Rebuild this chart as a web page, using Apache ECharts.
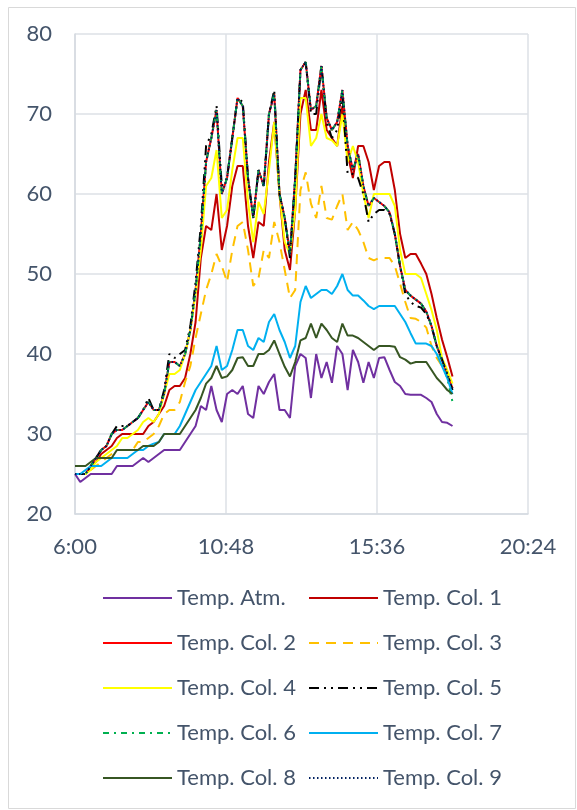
<!DOCTYPE html>
<html>
<head>
<meta charset="utf-8">
<script src="https://cdn.jsdelivr.net/npm/echarts@6/dist/echarts.min.js"></script>
<style>
  html, body { margin: 0; padding: 0; background: #ffffff; }
  #main { width: 577px; height: 810px; }
</style>
</head>
<body>
<div id="main"></div>
<script>
// minutes since 6:00, one reading every 10 min
var minutes = [0, 10, 20, 30, 40, 50, 60, 70, 80, 90,
    100, 110, 120, 130, 140, 150, 160, 170, 180, 190,
    200, 210, 220, 230, 240, 250, 260, 270, 280, 290,
    300, 310, 320, 330, 340, 350, 360, 370, 380, 390,
    400, 410, 420, 430, 440, 450, 460, 470, 480, 490,
    500, 510, 520, 530, 540, 550, 560, 570, 580, 590,
    600, 610, 620, 630, 640, 650, 660, 670, 680, 690,
    700, 710, 720];

var tempAtm = [25, 24, 24.5, 25, 25, 25, 25, 25, 26, 26,
    26, 26, 26.5, 27, 26.5, 27, 27.5, 28, 28, 28,
    28, 29, 30, 31, 33.5, 33, 36, 33, 31.5, 35,
    35.5, 35, 36, 32.5, 32, 36, 35, 36.5, 37.5, 33,
    33, 32, 38.5, 40, 39.5, 34.5, 40, 37, 39, 36.4,
    41, 40, 35.5, 40.5, 39, 36.4, 39, 37, 39.5, 39.6,
    38, 36.5, 36, 35, 34.9, 34.9, 34.9, 34.5, 34, 32.5,
    31.5, 31.4, 31];

var tempCol1 = [25, 25, 25, 26, 26.5, 27.5, 28, 28.5, 29.5, 30,
    30, 30, 30, 30, 31, 31.5, 32.5, 33.5, 35.5, 36,
    36, 37, 40, 44, 52, 56, 55.5, 60, 53, 56,
    61, 63.5, 63.5, 56, 52, 56.5, 56, 64, 69, 60,
    53, 50.5, 58, 70, 73, 68, 68, 73, 68, 67,
    66, 71, 65, 62, 66, 66, 64, 60.5, 63.5, 64,
    64, 60.5, 55, 52, 52.5, 52.5, 51.3, 50, 47.5, 44.5,
    41.8, 39.6, 37.2];

var tempCol2 = [25, 25, 25, 26, 27, 28, 28.5, 30, 30.5, 30.5,
    31, 31.5, 32, 33, 34, 33, 33, 35, 39, 39,
    38.5, 40, 43, 48, 55, 64, 67, 70.5, 60, 62,
    67, 72, 71, 62, 57, 63, 61, 70, 72.5, 60,
    57, 52.5, 62, 75.5, 76.5, 70.5, 71, 76, 69.5, 68,
    69, 73, 66, 63, 65, 61, 58.5, 59.5, 59, 58.5,
    57.7, 55, 51, 48, 47.3, 46.8, 46.3, 45.3, 43.5, 41,
    39.3, 37.5, 35.7];

var tempCol3 = [25, 25, 25, 25.5, 26, 26.5, 27, 27.5, 28, 28,
    28, 28, 29, 29, 29.5, 30, 31, 32.5, 33, 33,
    34, 36.5, 38.5, 42, 45, 48, 50, 52.5, 51, 49,
    53, 56, 56.5, 53, 48.5, 49.5, 53, 52, 56.5, 54,
    50.5, 47, 48, 60.5, 62.7, 58.8, 57, 61, 57, 56.8,
    58.5, 60, 55.5, 56.5, 55.5, 54, 52, 51.7, 52, 52,
    52, 51, 48.8, 46.5, 44.5, 44.4, 44, 43.3, 41, 39.5,
    38.5, 37.5, 36];

var tempCol4 = [25, 25, 25, 25.5, 26.5, 27, 27.5, 28, 28.5, 29.5,
    29.5, 30, 30.5, 31.5, 32, 31.5, 32.5, 35, 37.5, 37.5,
    38, 40, 43, 47.5, 53, 61, 62, 65.5, 57, 58,
    63, 67, 67, 59, 54, 59, 57.5, 63, 69, 60,
    54, 52.5, 58, 72, 72, 66, 67, 70, 67, 66.7,
    66, 70, 64, 66, 64, 60, 57, 60, 60, 60,
    60, 58.5, 53, 50, 50, 50, 49.5, 47.5, 45.5, 43,
    39.5, 38, 36.3];

var tempCol5 = [25, 25, 25, 26, 27, 28, 28.5, 30, 31, 31,
    31, 31.5, 32, 33, 34.5, 33, 33, 35.5, 40, 39.5,
    40, 40.5, 43.5, 49, 56, 66, 67.5, 71, 61, 62,
    67, 72, 71.5, 62, 57, 63, 61, 70, 73, 60,
    57, 52, 62, 75.5, 76.5, 70, 70, 76, 69, 67,
    68, 72.5, 62.5, 62.5, 62, 60, 56.5, 57.5, 58, 58,
    57.5, 55, 51, 47.5, 46.5, 46, 45.8, 45, 43.5, 41,
    39.3, 37.5, 35.5];

var tempCol6 = [25, 25, 25, 26, 27, 28, 28.5, 30, 30.5, 30.5,
    31, 31.5, 32, 33, 34, 33, 33, 35, 39, 39,
    38.5, 40, 43, 48, 55, 64, 67, 70.5, 60, 62,
    67, 72, 71, 62, 57, 63, 61, 70, 72.5, 60,
    57, 52.5, 62, 75.5, 76.5, 70.5, 71, 76, 69.5, 68,
    69, 73, 66, 63, 65, 61, 58.5, 59.5, 59, 58.5,
    57.7, 55, 51, 48, 47.3, 46.8, 46.3, 45.3, 43.5, 41,
    39, 37, 34];

var tempCol7 = [25, 25, 25.5, 26, 26, 26, 26.5, 27, 27, 27,
    27, 27.5, 28, 28, 28.5, 28.8, 29, 30, 30, 30,
    31, 32.5, 34, 35.5, 36.5, 37.5, 38.5, 41, 38, 38.5,
    40.5, 43, 43, 41, 40.5, 42, 41.5, 44, 45, 43,
    41.5, 39.5, 41, 46.5, 48.5, 47, 47.5, 48, 48, 47.5,
    48.5, 50, 48, 47.3, 47.3, 46.7, 46, 45.6, 46, 46,
    46, 46, 45, 44, 42.6, 41.3, 41.3, 41.3, 41, 40,
    38.5, 37, 35];

var tempCol8 = [26, 26, 26, 26.5, 27, 27, 27, 27, 28, 28,
    28, 28, 28, 28.5, 28.5, 28.5, 29, 30, 30, 30,
    30, 31, 32, 33, 34.5, 36.3, 37, 38.5, 37, 37.2,
    38, 39.5, 39.6, 38.5, 38.5, 40, 40, 40.5, 41.7, 40,
    38.4, 37.2, 39, 41.7, 42, 43.8, 42, 43.8, 43, 42,
    41.5, 43.8, 42.3, 42.3, 42, 41.5, 41, 40.5, 41, 41,
    41, 40.9, 39.6, 39.3, 38.8, 39, 39, 39, 38, 37,
    36.3, 35.5, 35];

var tempCol9 = [25, 25, 25, 26, 27, 28, 28.5, 30, 30.5, 30.5,
    31, 31.5, 32, 33, 34, 33, 33, 35, 39, 39,
    38.5, 40, 43, 48, 55, 64, 67, 70.5, 60, 62,
    67, 72, 71, 62, 57, 63, 61, 70, 72.5, 60,
    57, 52.5, 62, 75.5, 76.5, 70.5, 71, 76, 69.5, 68,
    69, 73, 66, 63, 65, 61, 58.5, 59.5, 59, 58.5,
    57.7, 55, 51, 48, 47.3, 46.8, 46.3, 45.3, 43.5, 41,
    39.3, 37.5, 35.7];

var seriesNames = ['Temp. Atm.', 'Temp. Col. 1', 'Temp. Col. 2', 'Temp. Col. 3', 'Temp. Col. 4',
    'Temp. Col. 5', 'Temp. Col. 6', 'Temp. Col. 7', 'Temp. Col. 8', 'Temp. Col. 9'];
var seriesValues = [tempAtm, tempCol1, tempCol2, tempCol3, tempCol4,
    tempCol5, tempCol6, tempCol7, tempCol8, tempCol9];
var seriesColors = ['#7030a0', '#c00000', '#ff0000', '#ffc000', '#ffff00',
    '#000000', '#00b050', '#00b0f0', '#375623', '#002060'];
var seriesDash = ['solid', 'solid', 'solid', [10, 7], 'solid',
    [10, 5, 2, 5, 2, 5], [6, 5, 2, 5], 'solid', 'solid', [1.5, 2.5]];

var textColor = '#44546a';
var fontFamily = 'Lato, "Open Sans", sans-serif';

function timeLabel(v) {
    // v is minutes after 6:00
    var total = 360 + v;
    var h = Math.floor(total / 60);
    var m = Math.round(total % 60);
    return h + ':' + (m < 10 ? '0' + m : m);
}

var series = seriesNames.map(function (name, k) {
    return {
        name: name,
        type: 'line',
        symbol: 'none',
        data: minutes.map(function (t, i) { return [t, seriesValues[k][i]]; }),
        lineStyle: { color: seriesColors[k], width: 2, type: seriesDash[k] },
        itemStyle: { color: seriesColors[k] },
        emphasis: { disabled: true }
    };
});

var legendBase = {
    orient: 'vertical',
    top: 586,
    padding: 0,
    itemWidth: 69,
    itemHeight: 24,
    itemGap: 21,
    itemStyle: { opacity: 0 },
    textStyle: { color: textColor, fontSize: 22, fontFamily: fontFamily, lineHeight: 24 }
};

var chartDom = document.getElementById('main');
var myChart = echarts.init(chartDom);
var option;

option = {
    animation: false,
    backgroundColor: '#ffffff',
    graphic: [{
        type: 'rect',
        shape: { x: 8.5, y: 7.5, width: 567, height: 801 },
        style: { fill: 'none', stroke: '#d9d9d9', lineWidth: 1 },
        silent: true
    }],
    grid: { left: 75, right: 49, top: 34, bottom: 296 },
    xAxis: {
        type: 'value',
        min: 0,
        max: 864,
        interval: 288,
        axisLine: { show: true, lineStyle: { color: '#d5dae1', width: 1.5 } },
        axisTick: { show: false },
        splitLine: { show: true, lineStyle: { color: '#dde1e6', width: 1.5 } },
        axisLabel: { color: textColor, fontSize: 22, fontFamily: fontFamily, margin: 22, formatter: timeLabel }
    },
    yAxis: {
        type: 'value',
        min: 20,
        max: 80,
        interval: 10,
        axisLine: { show: true, lineStyle: { color: '#d5dae1', width: 1.5 } },
        axisTick: { show: false },
        splitLine: { show: true, lineStyle: { color: '#dde1e6', width: 1.5 } },
        axisLabel: { color: textColor, fontSize: 22, fontFamily: fontFamily, margin: 23 }
    },
    legend: [
        Object.assign({}, legendBase, { left: 102, data: ['Temp. Atm.', 'Temp. Col. 2', 'Temp. Col. 4', 'Temp. Col. 6', 'Temp. Col. 8'] }),
        Object.assign({}, legendBase, { left: 308, data: ['Temp. Col. 1', 'Temp. Col. 3', 'Temp. Col. 5', 'Temp. Col. 7', 'Temp. Col. 9'] })
    ],
    series: series
};

option && myChart.setOption(option);
</script>
</body>
</html>
